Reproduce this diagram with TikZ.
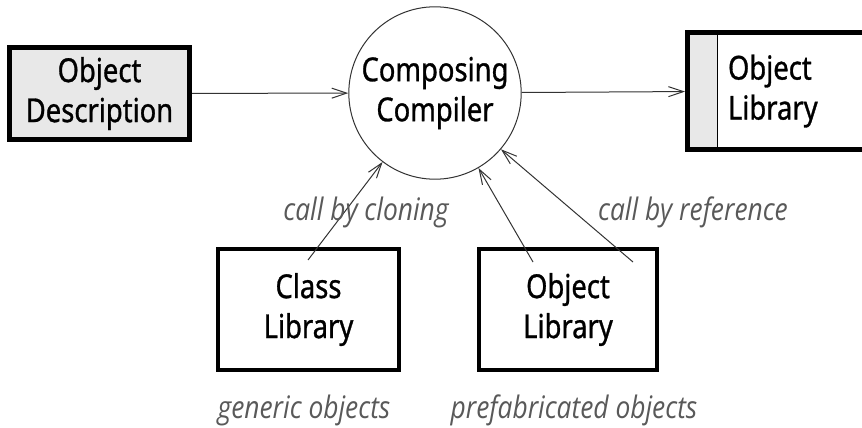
\documentclass[tikz,border=0pt]{standalone}
\usepackage{fontspec}
\setmainfont[FakeStretch=0.83, FakeBold=0.9]{Noto Sans}
\newfontfamily\notefont[FakeStretch=0.85]{Open Sans}
\usetikzlibrary{arrows.meta}

\definecolor{boxgray}{HTML}{E8E8E8}
\definecolor{linegray}{HTML}{333333}

\begin{document}
\begin{tikzpicture}[x=1pt, y=-1pt,
  boxfont/.style={font=\fontsize{33}{40}\selectfont},
  thickbox/.style={draw, line width=5pt, boxfont, align=center},
  libbox/.style={draw, line width=4pt, boxfont, align=center,
    minimum width=180pt, minimum height=121pt},
  flow/.style={draw=linegray, line width=1pt,
    -{Straight Barb[length=15pt, width=10pt]}},
  note/.style={text=black!65, font=\notefont\itshape\fontsize{31}{36}\selectfont}]
  \clip (0, 0) rectangle (862, 428);

  \node[thickbox, fill=boxgray, minimum width=180pt, minimum height=92pt]
    (desc) at (99.5, 93.5) {Object\\Description};
  \node[circle, draw=linegray, line width=1pt, minimum size=167pt,
    boxfont, align=center] (comp) at (435, 93) {Composing\\Compiler};
  \node[thickbox, fill=white, minimum width=192.5pt, minimum height=117pt,
    inner xsep=40.5pt, text width=111.5pt, align=left,
    path picture={
      \fill[boxgray] (path picture bounding box.north west) rectangle
        ([xshift=29.5pt]path picture bounding box.south west);
      \draw[line width=1pt] ([xshift=29.5pt]path picture bounding box.north west)
        -- ([xshift=29.5pt]path picture bounding box.south west);
    }] (objlib) at (783.75, 91) {Object\\Library};

  \node[libbox, minimum width=181pt] (cls) at (308.5, 309.5) {Class\\Library};
  \node[libbox, minimum width=178pt] (prefab) at (568, 309.5) {Object\\Library};

  % free ends inside the lower boxes
  \coordinate (clsin) at (308, 260);
  \coordinate (prefabin) at (533, 262);
  \coordinate (refin) at (633, 262);

  \draw[flow] (desc) -- (comp);
  \draw[flow] (comp) -- (objlib);
  \draw[flow] (clsin) -- (comp);
  \draw[flow] (prefabin) -- (comp);
  \draw[flow] (refin) -- (comp);

  \node[note] (cloning) at (366, 212) {call by cloning};
  \node[note] (byref) at (693, 212) {call by reference};
  \node[note] (generic) at (304, 410) {generic objects};
  \node[note] (prefabricated) at (574, 410) {prefabricated objects};
\end{tikzpicture}
\end{document}
